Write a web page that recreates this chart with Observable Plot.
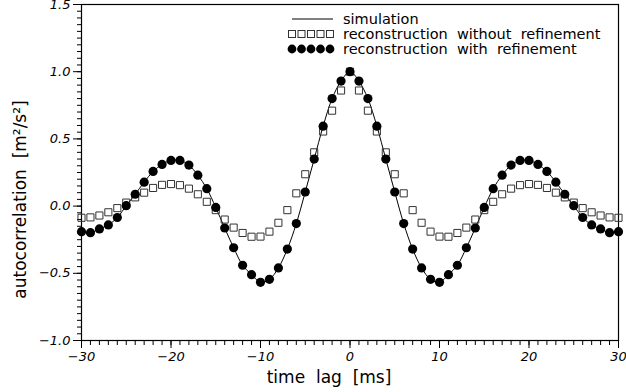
<!DOCTYPE html>
<html>
<head>
<meta charset="utf-8">
<script src="https://cdn.jsdelivr.net/npm/d3@7"></script>
<script src="https://cdn.jsdelivr.net/npm/@observablehq/plot@0.6"></script>
<style>
  html, body { margin: 0; padding: 0; background: #fff; }
  #chart svg { display: block; font-family: "DejaVu Sans", sans-serif; }
</style>
</head>
<body>
<div id="chart"></div>
<script>
// time lag (ms)
const lagMs = [-30,-29,-28,-27,-26,-25,-24,-23,-22,-21,-20,-19,-18,-17,-16,-15,-14,-13,-12,-11,-10,-9,-8,-7,-6,-5,-4,-3,-2,-1,
  0,1,2,3,4,5,6,7,8,9,10,11,12,13,14,15,16,17,18,19,20,21,22,23,24,25,26,27,28,29,30];

// simulation (solid line)
const simulation = [-0.19,-0.198,-0.17,-0.14,-0.085,0.003,0.088,0.178,0.258,0.31,0.34,0.34,0.305,0.23,0.13,-0.01,-0.163,-0.31,-0.44,-0.51,-0.567,-0.545,-0.46,-0.32,-0.13,0.105,0.35,0.595,0.80,0.93,
  1.00,0.93,0.80,0.595,0.35,0.105,-0.13,-0.32,-0.46,-0.545,-0.567,-0.51,-0.44,-0.31,-0.163,-0.01,0.13,0.23,0.305,0.34,0.34,0.31,0.258,0.178,0.088,0.003,-0.085,-0.14,-0.17,-0.198,-0.19];

// reconstruction with refinement (filled circles)
const withRefinement = [-0.19,-0.198,-0.17,-0.14,-0.085,0.003,0.088,0.178,0.258,0.31,0.34,0.34,0.305,0.23,0.13,-0.01,-0.163,-0.31,-0.44,-0.51,-0.567,-0.545,-0.46,-0.32,-0.13,0.105,0.35,0.595,0.80,0.93,
  1.00,0.93,0.80,0.595,0.35,0.105,-0.13,-0.32,-0.46,-0.545,-0.567,-0.51,-0.44,-0.31,-0.163,-0.01,0.13,0.23,0.305,0.34,0.34,0.31,0.258,0.178,0.088,0.003,-0.085,-0.14,-0.17,-0.198,-0.19];

// reconstruction without refinement (open squares)
const withoutRefinement = [-0.087,-0.084,-0.07,-0.046,-0.015,0.026,0.065,0.10,0.135,0.158,0.164,0.156,0.13,0.088,0.032,-0.03,-0.10,-0.16,-0.20,-0.228,-0.227,-0.19,-0.124,-0.03,0.095,0.237,0.40,0.555,0.71,0.86,
  1.00,0.86,0.71,0.555,0.40,0.237,0.095,-0.03,-0.124,-0.19,-0.227,-0.228,-0.20,-0.16,-0.10,-0.03,0.032,0.088,0.13,0.156,0.164,0.158,0.135,0.10,0.065,0.026,-0.015,-0.046,-0.07,-0.084,-0.087];

const xMajorTicks = [-30,-20,-10,0,10,20,30];
const yMajorTicks = [-1.0,-0.5,0.0,0.5,1.0,1.5];
const xLabel = "time\u00a0 lag\u00a0 [ms]";
const yLabel = "autocorrelation\u00a0 [m\u00b2/s\u00b2]";
const legendLabels = ["simulation", "reconstruction\u00a0 without\u00a0 refinement", "reconstruction\u00a0 with\u00a0 refinement"];

const simRows = lagMs.map((t, i) => ({t, v: simulation[i]}));
const withRows = lagMs.map((t, i) => ({t, v: withRefinement[i]}));
const withoutRows = lagMs.map((t, i) => ({t, v: withoutRefinement[i]}));

const xMinor = d3.range(-30, 31, 1);
const yMinor = d3.range(-20, 31, 1).map(d => d * 0.05);

const chart = Plot.plot({
  width: 626,
  height: 392,
  marginLeft: 81,
  marginRight: 8,
  marginTop: 4,
  marginBottom: 52,
  style: {fontFamily: "DejaVu Sans, sans-serif", background: "#fff"},
  x: {domain: [-30, 30], label: null},
  y: {domain: [-1, 1.5], label: null},
  marks: [
    Plot.axisX({ticks: xMinor, tickSize: 5, tickFormat: () => "", stroke: "#000"}),
    Plot.axisX({ticks: xMajorTicks, tickSize: 8, tickPadding: 3, fontSize: 13, fontStyle: "italic", fill: "#000", stroke: "#000",
      tickFormat: d => d3.format("d")(d)}),
    Plot.axisY({ticks: yMinor, tickSize: 4, tickFormat: () => "", stroke: "#000"}),
    Plot.axisY({ticks: yMajorTicks, tickSize: 8, tickPadding: 3, fontSize: 13, fontStyle: "italic", fill: "#000", stroke: "#000",
      tickFormat: d => d3.format(".1f")(d)}),
    Plot.frame({stroke: "#000", strokeWidth: 1.2}),
    Plot.line(simRows, {x: "t", y: "v", stroke: "#000", strokeWidth: 1, curve: "catmull-rom"}),
    Plot.dot(withoutRows, {x: "t", y: "v", symbol: "square", r: 4, fill: "none", stroke: "#333", strokeWidth: 1}),
    Plot.dot(withRows, {x: "t", y: "v", symbol: "circle", r: 4.6, fill: "#000", stroke: "none"}),
    Plot.text([xLabel], {frameAnchor: "bottom", textAnchor: "middle", lineAnchor: "middle", dx: -21, dy: 37, fontSize: 17, fill: "#000"}),
    Plot.text([yLabel], {frameAnchor: "left", textAnchor: "middle", lineAnchor: "middle", dx: -61, dy: 27, rotate: -90, fontSize: 17, fill: "#000"})
  ]
});

document.getElementById("chart").appendChild(chart);

// legend (inside plot, top right)
const svg = d3.select(chart);
const lg = svg.append("g").attr("class", "legend");
const rowsY = [19, 34, 49];
const symX = [292, 301.5, 311, 320.5, 330];
lg.append("line").attr("x1", 292).attr("x2", 333).attr("y1", rowsY[0]).attr("y2", rowsY[0])
  .attr("stroke", "#000").attr("stroke-width", 1);
lg.selectAll("rect.sq").data(symX).join("rect").attr("class", "sq")
  .attr("x", d => d - 3.5).attr("y", rowsY[1] - 3.5).attr("width", 7).attr("height", 7)
  .attr("fill", "none").attr("stroke", "#333").attr("stroke-width", 1);
lg.selectAll("circle.ci").data(symX).join("circle").attr("class", "ci")
  .attr("cx", d => d).attr("cy", rowsY[2]).attr("r", 4.4).attr("fill", "#000");
lg.selectAll("text").data(legendLabels).join("text")
  .attr("x", 343).attr("y", (d, i) => rowsY[i]).attr("dy", "0.35em")
  .attr("text-anchor", "start")
  .attr("font-size", 14.5).attr("fill", "#000").text(d => d);
</script>
</body>
</html>
